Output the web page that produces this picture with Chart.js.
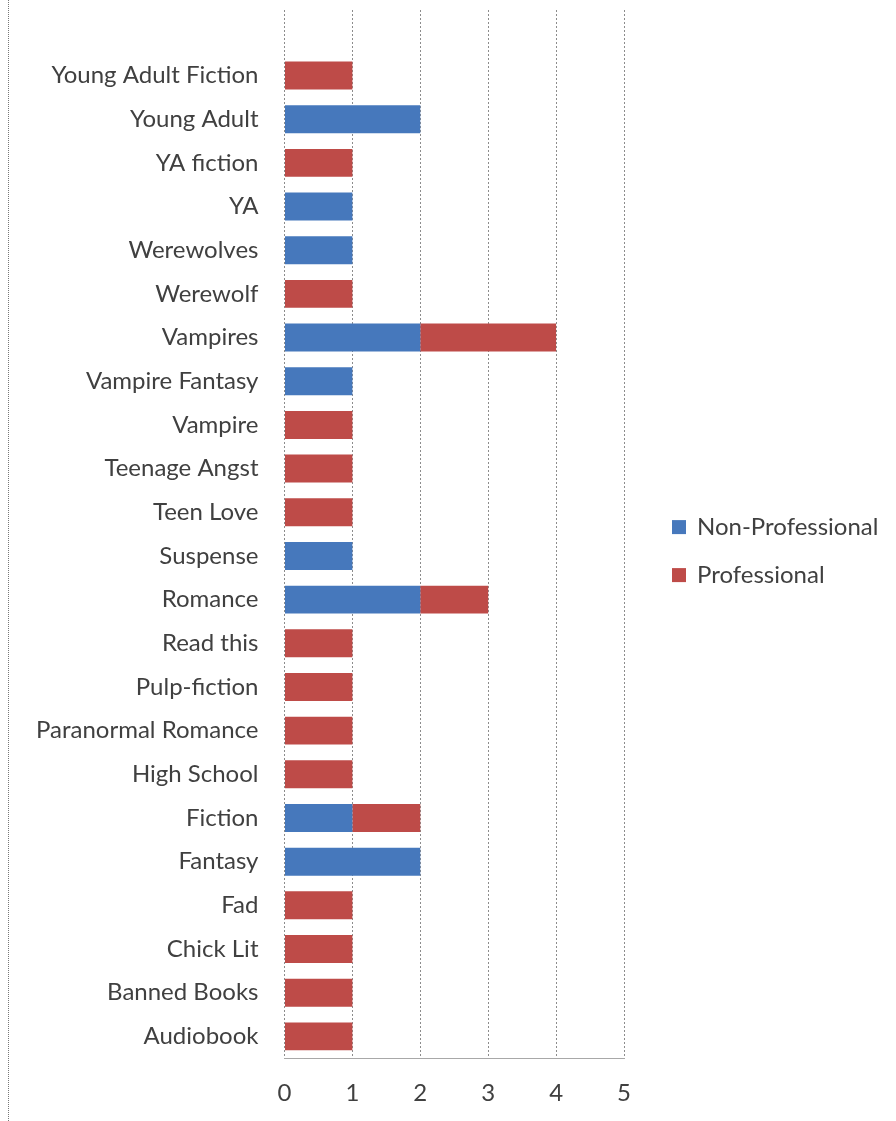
<!DOCTYPE html>
<html>
<head>
<meta charset="utf-8">
<script src="https://cdn.jsdelivr.net/npm/chart.js@4.4.1/dist/chart.umd.min.js"></script>
<style>
  html, body { margin: 0; padding: 0; background: #fff; }
  #wrap { position: relative; width: 896px; height: 1121px; }
  #frame { position: absolute; left: 8px; top: 0; bottom: 0; border-left: 1px dotted #777; }
</style>
</head>
<body>
<div id="wrap">
  <div id="frame"></div>
  <canvas id="chart" width="896" height="1121"></canvas>
</div>
<script>
// categories, top to bottom (first slot is the empty band above the bars)
const categories = [
  "", "Young Adult Fiction", "Young Adult", "YA fiction", "YA", "Werewolves", "Werewolf",
  "Vampires", "Vampire Fantasy", "Vampire", "Teenage Angst", "Teen Love", "Suspense",
  "Romance", "Read this", "Pulp-fiction", "Paranormal Romance", "High School",
  "Fiction", "Fantasy", "Fad", "Chick Lit", "Banned Books", "Audiobook"
];

const nonProfessional = [
  null, 0, 2, 0, 1, 1, 0,
  2, 1, 0, 0, 0, 1,
  2, 0, 0, 0, 0,
  1, 2, 0, 0, 0, 0
];

const professional = [
  null, 1, 0, 1, 0, 0, 1,
  2, 0, 1, 1, 1, 0,
  1, 1, 1, 1, 1,
  1, 0, 1, 1, 1, 1
];

const xTicks = [0, 1, 2, 3, 4, 5];

const seriesNames = ["Non-Professional", "Professional"];
const seriesColors = ["#4678BC", "#BE4B48"];

const textColor = "#404040";
const fontFamily = "Lato, 'Open Sans', sans-serif";
const fontSize = 24;

// legend drawn to the right of the plot, like the spreadsheet original
const sideLegend = {
  id: "sideLegend",
  afterDraw(chart) {
    const { ctx, chartArea } = chart;
    const x = chartArea.right + 48;
    const midY = (chartArea.top + chartArea.bottom) / 2 + 17;
    const gap = 48;
    ctx.save();
    ctx.font = `${fontSize}px ${fontFamily}`;
    ctx.textBaseline = "middle";
    chart.data.datasets.forEach((ds, i) => {
      const y = midY - gap / 2 + i * gap;
      ctx.fillStyle = ds.backgroundColor;
      ctx.fillRect(x, y - 7, 14, 14);
      ctx.fillStyle = textColor;
      ctx.fillText(ds.label, x + 25, y);
    });
    ctx.restore();
  },
};

new Chart(document.getElementById("chart").getContext("2d"), {
  type: "bar",
  data: {
    labels: categories,
    datasets: [
      { label: seriesNames[0], data: nonProfessional, backgroundColor: seriesColors[0] },
      { label: seriesNames[1], data: professional, backgroundColor: seriesColors[1] },
    ],
  },
  options: {
    indexAxis: "y",
    responsive: false,
    animation: false,
    barPercentage: 0.8,
    categoryPercentage: 0.8,
    layout: { padding: { left: 18, right: 272, top: 10, bottom: -8 } },
    plugins: {
      legend: { display: false },
      tooltip: { enabled: false },
    },
    scales: {
      x: {
        stacked: true,
        min: 0,
        max: 5,
        afterBuildTicks(scale) { scale.ticks = xTicks.map((v) => ({ value: v })); },
        grid: { color: "#8c8c8c", lineWidth: 1, drawTicks: false },
        border: { display: true, color: "#a8a8a8", dash: [2, 2] },
        ticks: { color: textColor, font: { family: fontFamily, size: fontSize }, padding: 21 },
      },
      y: {
        stacked: true,
        grid: { display: false },
        border: { display: false },
        ticks: { color: textColor, font: { family: fontFamily, size: fontSize }, padding: 18, autoSkip: false },
        afterFit(scale) {
          scale.paddingTop = 0;
          scale.paddingBottom = 0;
        },
      },
    },
  },
  plugins: [sideLegend],
});
</script>
</body>
</html>
